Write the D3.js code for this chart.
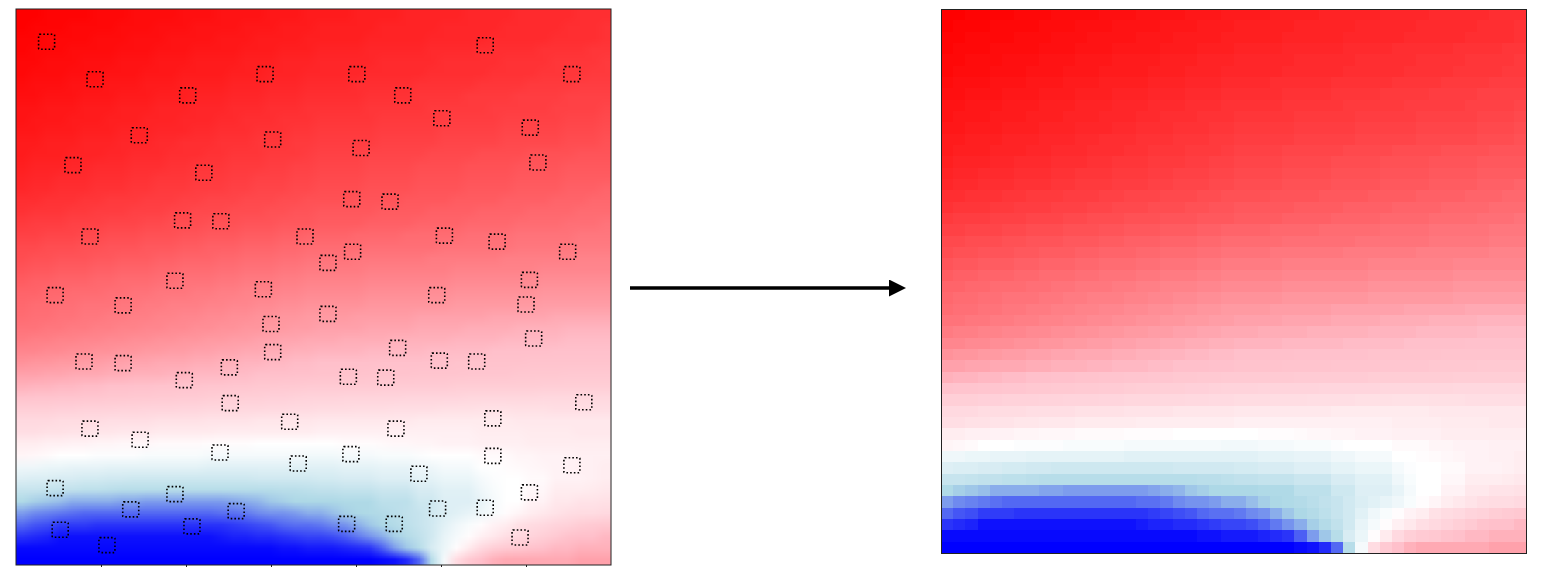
<!DOCTYPE html>
<html>
<head>
<meta charset="utf-8">
<script src="https://cdnjs.cloudflare.com/ajax/libs/d3/7.8.5/d3.min.js"></script>
<style>
  html, body { margin: 0; padding: 0; background: #fff; }
  svg { display: block; }
</style>
</head>
<body>
<svg id="chart" width="1549" height="575"></svg>
<script>
// colour stops of the field, 0 = full blue, 100 = full red
var colourStops = [0, 25, 50, 75, 100]
var colourNames = ["blue", "lightblue", "white", "pink", "red"]

// ticks under the left panel
var xTicks = [1, 2, 3, 4, 5, 6]

// the dotted boxes on the left panel
var boxX = [0.36,0.93,2.02,2.93,4.01,4.55,5.52,6.54,5.01,6.05,1.45,3.02,4.06,6.14,0.67,2.21,3.95,4.40,1.96,2.41,0.87,3.40,5.04,5.66,3.96,3.67,6.49,6.04,1.87,2.91,0.46,4.95,6.00,1.26,3.67,3.00,6.09,4.49,3.02,0.80,1.26,2.51,4.98,5.42,1.98,3.91,4.35,2.52,6.68,5.61,3.22,4.47,0.87,1.46,2.40,3.94,5.61,3.32,6.54,4.74,0.46,1.87,6.04,1.35,2.59,4.96,5.52,2.07,3.89,4.45,0.52,5.93,1.07]
var boxY = [6.16,5.72,5.53,5.78,5.78,5.53,6.12,5.78,5.26,5.15,5.06,5.01,4.91,4.74,4.71,4.62,4.31,4.28,4.06,4.05,3.87,3.87,3.88,3.81,3.69,3.56,3.69,3.36,3.35,3.25,3.18,3.18,3.07,3.06,2.96,2.84,2.67,2.56,2.51,2.40,2.38,2.33,2.41,2.40,2.18,2.22,2.21,1.91,1.92,1.73,1.69,1.61,1.61,1.48,1.33,1.31,1.29,1.20,1.18,1.08,0.91,0.84,0.86,0.66,0.64,0.67,0.68,0.46,0.49,0.49,0.42,0.33,0.24]

// field values, one row per line, top row first
var fieldRows = [
[100,100,99.5,99.5,99.5,99.5,99,99,99,98.5,98.5,98.5,98.5,98,98,98,97.5,97.5,97.5,97.5,97,97,97,96.5,96.5,96.5,96.5,96,96,96,96,95.5,95.5,95.5,95.5,95.5,95,95,95,95,94.5,94.5,94.5,94.5,94.5,94,94,94],
[100,99.5,99.5,99.5,99,99,99,99,98.5,98.5,98.5,98,98,98,97.5,97.5,97.5,97.5,97,97,97,96.5,96.5,96.5,96,96,96,96,96,95.5,95.5,95.5,95.5,95.5,95,95,95,95,95,94.5,94.5,94.5,94.5,94.5,94,94,94,93.5],
[99.5,99.5,99,99,99,99,98.5,98.5,98.5,98,98,98,97.5,97.5,97.5,97.5,97,97,97,96.5,96.5,96.5,96.5,96,96,96,96,96,95.5,95.5,95.5,95.5,95.5,95,95,95,95,95,94.5,94.5,94.5,94.5,94.5,94,94,94,94,93.5],
[99.5,99,99,99,98.5,98.5,98.5,98.5,98,98,98,97.5,97.5,97.5,97,97,97,97,96.5,96.5,96.5,96,96,96,95.5,95.5,95.5,95.5,95,95,95,95,95,94.5,94.5,94.5,94.5,94,94,94,94,94,93.5,93.5,93.5,93.5,93,93],
[99,99,98.5,98.5,98.5,98,98,98,97.5,97.5,97.5,97,97,97,96.5,96.5,96.5,96.5,96,96,96,95.5,95.5,95.5,95,95,95,95,95,94.5,94.5,94.5,94.5,94.5,94,94,94,94,94,93.5,93.5,93.5,93.5,93,93,93,93,92.5],
[99,98.5,98.5,98.5,98,98,98,97.5,97.5,97.5,97,97,97,96.5,96.5,96.5,96.5,96,96,96,95.5,95.5,95.5,95,95,95,95,95,94.5,94.5,94.5,94.5,94.5,94,94,94,94,94,93.5,93.5,93.5,93.5,93,93,93,93,92.5,92.5],
[98.5,98,98,98,97.5,97.5,97.5,97,97,97,96.5,96.5,96.5,96,96,96,96,95.5,95.5,95.5,95,95,95,94.5,94.5,94.5,94.5,94,94,94,94,94,93.5,93.5,93.5,93.5,93.5,93,93,93,93,92.5,92.5,92.5,92.5,92,92,92],
[98,98,97.5,97.5,97.5,97,97,97,96.5,96.5,96.5,96,96,96,95.5,95.5,95.5,95,95,95,94.5,94.5,94.5,94,94,94,94,94,93.5,93.5,93.5,93.5,93,93,93,93,92.5,92.5,92.5,92.5,92,92,92,92,91.5,91.5,91.5,91.5],
[97.5,97.5,97,97,97,96.5,96.5,96.5,96,96,96,95.5,95.5,95.5,95,95,95,94.5,94.5,94.5,94,94,94,93.5,93.5,93.5,93.5,93.5,93,93,93,93,93,92.5,92.5,92.5,92.5,92.5,92,92,92,92,92,91.5,91.5,91.5,91.5,91],
[97.5,97,97,97,96.5,96.5,96.5,96,96,96,95.5,95.5,95.5,95,95,95,94.5,94.5,94,94,94,93.5,93.5,93.5,93,93,93,93,93,92.5,92.5,92.5,92.5,92.5,92,92,92,92,92,91.5,91.5,91.5,91.5,91.5,91,91,91,90.5],
[97,97,96.5,96.5,96.5,96,96,96,95.5,95.5,95.5,95,95,95,94.5,94.5,94,94,94,93.5,93.5,93.5,93,93,92.5,92.5,92.5,92.5,92.5,92,92,92,92,92,91.5,91.5,91.5,91.5,91.5,91,91,91,91,91,90.5,90.5,90.5,90],
[96.5,96.5,96,96,96,95.5,95.5,95.5,95,95,95,94.5,94.5,94,94,94,93.5,93.5,93.5,93,93,93,92.5,92.5,92,92,92,92,92,91.5,91.5,91.5,91.5,91.5,91,91,91,91,91,90.5,90.5,90.5,90.5,90.5,90,90,90,89.5],
[96.5,96,96,96,95.5,95.5,95.5,95,95,94.5,94.5,94.5,94,94,94,93.5,93.5,93,93,93,92.5,92.5,92.5,92,91.5,91.5,91.5,91.5,91,91,91,91,91,90.5,90.5,90.5,90.5,90,90,90,90,89.5,89.5,89.5,89.5,89,89,89],
[96,95.5,95.5,95.5,95,95,94.5,94.5,94.5,94,94,94,93.5,93.5,93,93,93,92.5,92.5,92.5,92,92,91.5,91.5,91,91,91,91,90.5,90.5,90.5,90.5,90,90,90,90,89.5,89.5,89.5,89.5,89,89,89,89,88.5,88.5,88.5,88.5],
[95.5,95,95,94.5,94.5,94.5,94,94,94,93.5,93.5,93,93,93,92.5,92.5,92.5,92,92,91.5,91.5,91.5,91,91,90.5,90.5,90.5,90.5,90,90,90,90,89.5,89.5,89.5,89.5,89,89,89,89,88.5,88.5,88.5,88.5,88,88,88,88],
[95,94.5,94.5,94,94,94,93.5,93.5,93.5,93,93,92.5,92.5,92.5,92,92,92,91.5,91.5,91,91,91,90.5,90.5,90,90,90,90,89.5,89.5,89.5,89.5,89,89,89,89,88.5,88.5,88.5,88.5,88,88,88,88,87.5,87.5,87.5,87],
[94,94,93.5,93.5,93.5,93,93,92.5,92.5,92.5,92,92,92,91.5,91.5,91,91,91,90.5,90.5,90.5,90,90,89.5,89.5,89.5,89.5,89,89,89,89,88.5,88.5,88.5,88.5,88,88,88,88,87.5,87.5,87.5,87.5,87,87,87,86.5,86.5],
[93.5,93,93,93,92.5,92.5,92,92,92,91.5,91.5,91.5,91,91,90.5,90.5,90.5,90,90,90,89.5,89.5,89,89,88.5,88.5,88.5,88.5,88.5,88,88,88,88,87.5,87.5,87.5,87.5,87,87,87,87,86.5,86.5,86.5,86.5,86,86,86],
[92.5,92,92,92,91.5,91.5,91.5,91,91,91,90.5,90.5,90,90,90,89.5,89.5,89.5,89,89,89,88.5,88.5,88.5,88,88,88,88,87.5,87.5,87.5,87.5,87,87,87,87,86.5,86.5,86.5,86.5,86,86,86,86,85.5,85.5,85.5,85],
[91.5,91.5,91,91,91,90.5,90.5,90,90,90,89.5,89.5,89.5,89,89,88.5,88.5,88.5,88,88,88,87.5,87.5,87,87,87,87,86.5,86.5,86.5,86.5,86,86,86,86,86,85.5,85.5,85.5,85.5,85,85,85,85,85,84.5,84.5,84.5],
[90.5,90.5,90,90,90,89.5,89.5,89,89,89,88.5,88.5,88.5,88,88,87.5,87.5,87.5,87,87,87,86.5,86.5,86,86,86,86,86,85.5,85.5,85.5,85.5,85.5,85.5,85,85,85,85,85,85,84.5,84.5,84.5,84.5,84.5,84,84,84],
[90,89.5,89.5,89,89,89,88.5,88.5,88,88,88,87.5,87.5,87,87,87,86.5,86.5,86,86,86,85.5,85.5,85,85,85,85,84.5,84.5,84.5,84.5,84.5,84.5,84,84,84,84,84,84,83.5,83.5,83.5,83.5,83.5,83.5,83,83,83],
[89,88.5,88.5,88,88,88,87.5,87.5,87,87,87,86.5,86.5,86,86,86,85.5,85.5,85,85,85,84.5,84.5,84,84,84,84,84,83.5,83.5,83.5,83.5,83.5,83.5,83.5,83,83,83,83,83,83,83,82.5,82.5,82.5,82.5,82.5,82.5],
[88,87.5,87.5,87,87,87,86.5,86.5,86,86,86,85.5,85.5,85,85,85,84.5,84.5,84,84,84,83.5,83.5,83,83,83,83,83,82.5,82.5,82.5,82.5,82.5,82.5,82.5,82,82,82,82,82,82,82,81.5,81.5,81.5,81.5,81.5,81.5],
[87,87,86.5,86.5,86,86,86,85.5,85.5,85,85,84.5,84.5,84.5,84,84,83.5,83.5,83,83,83,82.5,82.5,82,82,82,82,82,81.5,81.5,81.5,81.5,81.5,81.5,81.5,81,81,81,81,81,81,81,80.5,80.5,80.5,80.5,80.5,80.5],
[86.5,86,86,85.5,85.5,85,85,85,84.5,84.5,84,84,83.5,83.5,83.5,83,83,82.5,82.5,82,82,81.5,81.5,81,81,81,81,81,80.5,80.5,80.5,80.5,80.5,80.5,80.5,80,80,80,80,80,80,80,79.5,79.5,79.5,79.5,79.5,79.5],
[86,85.5,85.5,85,85,84.5,84.5,84,84,83.5,83.5,83,83,82.5,82.5,82,82,81.5,81.5,81,81,80.5,80.5,80,80,80,80,79.5,79.5,79.5,79.5,79.5,79,79,79,79,79,79,78.5,78.5,78.5,78.5,78.5,78,78,78,78,78],
[85,85,84.5,84.5,84,84,83.5,83.5,83,83,82.5,82.5,82,82,81.5,81.5,81,81,80.5,80.5,80,80,79.5,79.5,79,79,79,79,78.5,78.5,78.5,78.5,78,78,78,78,77.5,77.5,77.5,77.5,77,77,77,77,76.5,76.5,76.5,76.5],
[84,83.5,83.5,83,83,82.5,82.5,82,82,81.5,81.5,81,81,80.5,80.5,80,80,79.5,79.5,79,79,78.5,78.5,78,78,78,77.5,77.5,77.5,77.5,77,77,77,77,77,76.5,76.5,76.5,76.5,76,76,76,76,76,75.5,75.5,75.5,75.5],
[82.5,82.5,82,82,81.5,81.5,81,81,80.5,80.5,80,80,79.5,79.5,79,79,78.5,78.5,78,78,77.5,77.5,77,77,76.5,76.5,76.5,76.5,76,76,76,76,76,75.5,75.5,75.5,75.5,75.5,75,75,75,75,75,74.5,74.5,74.5,74.5,74.5],
[81,80.5,80.5,80,80,79.5,79.5,79,79,78.5,78.5,78,78,78,77.5,77.5,77,77,76.5,76.5,76,76,75.5,75.5,75,75,75,75,75,74.5,74.5,74.5,74.5,74.5,74.5,74,74,74,74,74,74,73.5,73.5,73.5,73.5,73.5,73.5,73.5],
[79,79,78.5,78.5,78,78,78,77.5,77.5,77,77,77,76.5,76.5,76,76,76,75.5,75.5,75,75,75,74.5,74.5,74,74,74,74,73.5,73.5,73.5,73.5,73,73,73,73,72.5,72.5,72.5,72.5,72,72,72,72,71.5,71.5,71.5,71.5],
[77,76.5,76.5,76,76,75.5,75.5,75,75,74.5,74.5,74,74,73.5,73.5,73,73,72.5,72.5,72,72,71.5,71.5,71,71,71,71,71,71,70.5,70.5,70.5,70.5,70.5,70.5,70,70,70,70,70,70,70,69.5,69.5,69.5,69.5,69.5,69.5],
[74,73.5,73.5,73,73,72.5,72.5,72,72,71.5,71.5,71,71,70.5,70.5,70,69.5,69.5,69,69,68.5,68.5,68,67.5,67.5,67.5,67,67,67,67,67,66.5,66.5,66.5,66.5,66.5,66,66,66,66,66,66,65.5,65.5,65.5,65.5,65.5,65.5],
[69,69,69,68.5,68.5,68,68,68,67.5,67.5,67,67,67,66.5,66.5,66,66,66,65.5,65.5,65,65,64.5,64.5,64,64,64,63.5,63.5,63.5,63,63,63,63,62.5,62.5,62.5,62,62,62,62.5,62.5,62.5,63,63,63,63,63],
[65,65,65,64,64,64,64,63,63,63,63,62,62,62,62,61,61,61,61,60,60,60,60,60,59,59,59,59,59,59,59,59,58,58,58,58,58,58,58,58,59,59,59,59,59,59,59,59],
[63,63,62,62,61,61,60,60,59,59,59,58,58,58,58,58,57,57,57,57,57,57,57,57,56,56,56,56,56,56,56,56,56,56,56,56,56,57,57,57,57,58,58,58,58,59,59,59],
[57,57,56,56,55,55,54,54,53,53,53,52,52,52,52,51,51,51,51,50,50,50,50,50,50,50,51,51,51,52,53,53,54,54,55,55,55,56,56,56,56,57,57,57,57,57,57,57],
[54,53,52,50,50,50,49,49,49,49,48,48,48,48,48,47,47,47,47,47,47,47,47,46,46,46,47,47,47,48,48,48,49,50,50,50,50,52,52,52,54,54,55,55,55,56,56,56],
[45,45,44,44,43,43,43,42,42,42,42,42,42,42,42,41,41,41,41,41,41,41,41,41,41,41,42,42,42,43,43,43,45,45,47,47,47,50,50,51,52,53,54,55,55,56,56,57],
[40,39,39,38,38,37,37,36,36,35,35,35,35,35,35,35,35,35,35,36,36,36,36,36,37,37,38,38,38,40,40,40,42,42,44,44,44,47,49,50,50,52,52,55,55,55,56,57],
[33,33,32,31,31,30,30,29,28,28,28,28,28,28,28,28,28,28,28,28,28,29,29,30,31,31,32,32,32,34,34,34,38,38,41,41,41,45,48,50,50,53,53,57,57,57,58,59],
[26,24,23,22,20,20,20,20,19,19,18,18,18,18,18,18,18,19,20,21,23,24,25,25,25,25,26,26,26,30,30,30,35,35,40,40,40,43,47,50,50,55,55,59,59,61,61,62],
[18,16,15,14,13,12,12,12,12,12,12,12,12,12,12,12,13,13,14,16,17,17,18,20,20,22,24,25,26,27,29,31,33,36,39,41,43,45,48,51,54,57,59,61,63,64,64,65],
[12,10,9,7,7,7,6,6,6,6,6,6,6,6,6,6,6,7,8,9,10,12,13,13,14,16,17,20,23,25,27,30,33,36,41,45,48,51,55,57,62,64,65,67,68,70,71,72],
[6,5,4,2,2,2,2,2,2,2,2,2,2,2,2,2,3,4,4,5,5,6,7,8,8,9,11,14,17,20,24,27,31,36,43,47,51,56,59,63,65,67,69,71,74,75,75,76],
[1,1,1,1,1,1,1,1,1,1,1,1,1,1,1,1,1,1,1,1,1,2,2,3,3,3,4,5,6,11,18,23,28,38,44,51,58,65,69,71,72,74,75,76,76,77,77,77],
[0,0,0,0,0,0,0,0,0,0,0,0,0,0,0,0,0,0,0,0,0,0,0,0,0,0,0,0,0,1,2,5,12,28,47,64,71,75,77,78,78,78,78,78,78,79,79,79]
]

var rowIds = d3.range(fieldRows.length)
var colIds = d3.range(fieldRows[0].length)

var colour = d3.scaleLinear()
  .domain(colourStops)
  .range(colourNames)
  .interpolate(d3.interpolateRgb)

var svg = d3.select("#chart")

// left panel: same field, drawn as one smoothed image
var leftX = d3.scaleLinear().domain([0, 7]).range([16, 611])
var leftY = d3.scaleLinear().domain([0, 6.54]).range([565, 9])

var canvas = document.createElement("canvas")
canvas.width = colIds.length
canvas.height = rowIds.length
var ctx = canvas.getContext("2d")
rowIds.forEach(function(r) {
  colIds.forEach(function(c) {
    ctx.fillStyle = colour(fieldRows[r][c])
    ctx.fillRect(c, r, 1, 1)
  })
})

var left = svg.append("g").attr("class", "left-panel")

left.append("image")
  .attr("href", canvas.toDataURL())
  .attr("x", leftX(0))
  .attr("y", leftY(6.54))
  .attr("width", leftX(7) - leftX(0))
  .attr("height", leftY(0) - leftY(6.54))
  .attr("preserveAspectRatio", "none")

left.selectAll(".box")
  .data(boxX)
  .enter()
  .append("rect")
  .attr("class", "box")
  .attr("x", function(d) { return leftX(d) - 8 })
  .attr("y", function(d, i) { return leftY(boxY[i]) - 7 })
  .attr("width", 16)
  .attr("height", 15)
  .attr("rx", 1)
  .attr("fill", "none")
  .attr("stroke", "#000")
  .attr("stroke-width", 1.6)
  .attr("stroke-dasharray", "1.6 2.1")

left.append("g")
  .attr("transform", "translate(0," + leftY(0) + ")")
  .call(d3.axisBottom(leftX).tickValues(xTicks).tickSize(2).tickFormat(""))
  .call(function(g) { g.select(".domain").remove() })
  .selectAll("line")
  .attr("stroke", "#222")

left.append("rect")
  .attr("x", leftX(0))
  .attr("y", leftY(6.54))
  .attr("width", leftX(7) - leftX(0))
  .attr("height", leftY(0) - leftY(6.54))
  .attr("fill", "none")
  .attr("stroke", "#222")

// right panel: the same values as plain cells
var rightX = d3.scaleBand().domain(colIds).range([941, 1526])
var rightY = d3.scaleBand().domain(rowIds).range([9, 553])

var right = svg.append("g").attr("class", "right-panel").attr("shape-rendering", "crispEdges")

right.selectAll(".row")
  .data(fieldRows)
  .enter()
  .append("g")
  .attr("class", "row")
  .attr("transform", function(d, i) { return "translate(0," + rightY(i) + ")" })
  .selectAll("rect")
  .data(function(d) { return d })
  .enter()
  .append("rect")
  .attr("x", function(d, i) { return rightX(i) })
  .attr("width", rightX.bandwidth())
  .attr("height", rightY.bandwidth())
  .attr("fill", function(d) { return colour(d) })

right.append("rect")
  .attr("x", 941)
  .attr("y", 9)
  .attr("width", 585)
  .attr("height", 544)
  .attr("fill", "none")
  .attr("stroke", "#222")

// arrow between the panels
svg.append("defs").append("marker")
  .attr("id", "head")
  .attr("markerUnits", "userSpaceOnUse")
  .attr("viewBox", "0 0 17 17")
  .attr("refX", 0)
  .attr("refY", 8.5)
  .attr("markerWidth", 17)
  .attr("markerHeight", 17)
  .attr("orient", "auto")
  .append("path")
  .attr("d", "M0,0L17,8.5L0,17Z")
  .attr("fill", "#000")

svg.append("line")
  .attr("x1", 630)
  .attr("x2", 889)
  .attr("y1", 288)
  .attr("y2", 288)
  .attr("stroke", "#000")
  .attr("stroke-width", 3.5)
  .attr("marker-end", "url(#head)")
</script>
</body>
</html>
